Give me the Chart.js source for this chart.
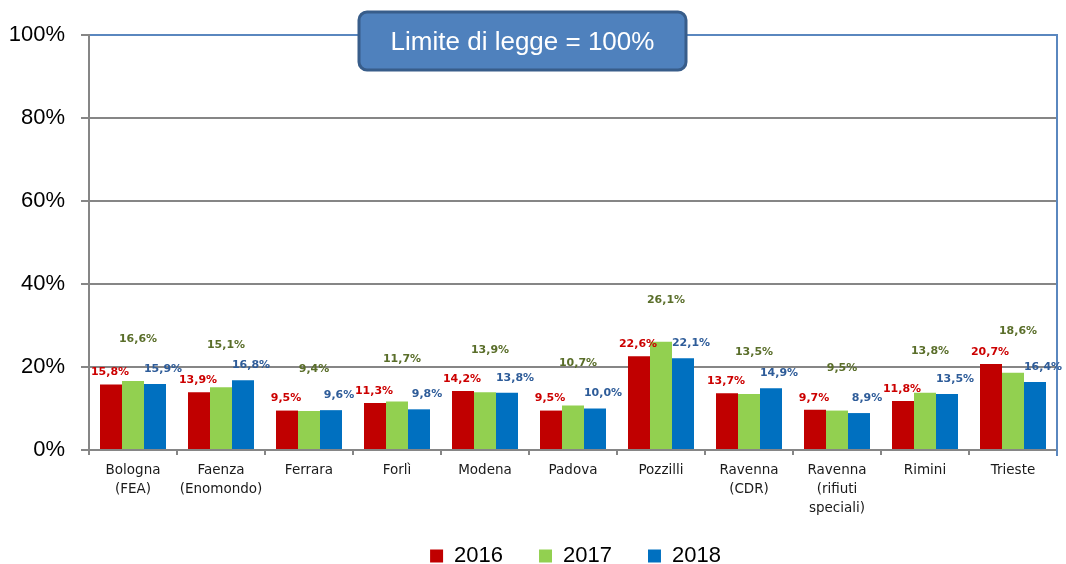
<!DOCTYPE html>
<html>
<head>
<meta charset="utf-8">
<script src="https://cdn.jsdelivr.net/npm/chart.js@4"></script>
<style>
  html, body { margin: 0; padding: 0; background: #fff; }
  #wrap { width: 1066px; height: 564px; position: relative; }
</style>
</head>
<body>
<div id="wrap"><canvas id="myChart"></canvas></div>
<script>
// data
const categories = [
  ["Bologna", "(FEA)"],
  ["Faenza", "(Enomondo)"],
  "Ferrara",
  "Forlì",
  "Modena",
  "Padova",
  "Pozzilli",
  ["Ravenna", "(CDR)"],
  ["Ravenna", "(rifiuti", "speciali)"],
  "Rimini",
  "Trieste",
];
const years = ["2016", "2017", "2018"];
const values2016 = [15.8, 13.9, 9.5, 11.3, 14.2, 9.5, 22.6, 13.7, 9.7, 11.8, 20.7];
const values2017 = [16.6, 15.1, 9.4, 11.7, 13.9, 10.7, 26.1, 13.5, 9.5, 13.8, 18.6];
const values2018 = [15.9, 16.8, 9.6, 9.8, 13.8, 10.0, 22.1, 14.9, 8.9, 13.5, 16.4];
const yTicks = [0, 20, 40, 60, 80, 100];
const limitText = "Limite di legge = 100%";

// colours
const barColors = ["#C00000", "#92D050", "#0070C0"];
const labelColors = ["#CC0000", "#5A6E2A", "#2E5C99"];
const gridGray = "#868686";
const borderBlue = "#5A87BF";

// value labels over the bars, nudged per series
const labelNudge = [
  { dx: -1, dy: 12 },
  { dx: 5, dy: 42 },
  { dx: 8, dy: 15 },
];

const valueLabels = {
  id: "valueLabels",
  afterDatasetsDraw(chart) {
    const ctx = chart.ctx;
    ctx.save();
    ctx.font = "bold 11px 'DejaVu Sans'";
    ctx.textAlign = "center";
    ctx.textBaseline = "middle";
    chart.data.datasets.forEach((ds, i) => {
      const meta = chart.getDatasetMeta(i);
      ctx.fillStyle = labelColors[i];
      meta.data.forEach((bar, j) => {
        let txt = ds.data[j].toFixed(1).replace(".", ",") + "%";
        ctx.fillText(txt, bar.x + labelNudge[i].dx, bar.y - labelNudge[i].dy);
      });
    });
    ctx.restore();
  },
};

// right border of the plot area
const plotBorder = {
  id: "plotBorder",
  beforeDatasetsDraw(chart) {
    const { ctx, chartArea } = chart;
    ctx.save();
    ctx.strokeStyle = borderBlue;
    ctx.lineWidth = 2;
    ctx.beginPath();
    ctx.moveTo(chartArea.right, chartArea.top - 1);
    ctx.lineTo(chartArea.right, chartArea.bottom + 6);
    ctx.stroke();
    ctx.restore();
  },
};

// the "legal limit" note on top of the chart
const limitBox = {
  id: "limitBox",
  afterDraw(chart) {
    const { ctx, chartArea } = chart;
    const x = chartArea.left + 270;
    const y = chartArea.top - 23;
    const w = 327;
    const h = 58;
    ctx.save();
    ctx.beginPath();
    ctx.roundRect(x, y, w, h, 8);
    ctx.fillStyle = "#4F81BD";
    ctx.fill();
    ctx.lineWidth = 3;
    ctx.strokeStyle = "#385D8A";
    ctx.stroke();
    ctx.fillStyle = "#fff";
    ctx.font = "26px 'Liberation Sans'";
    ctx.textAlign = "center";
    ctx.textBaseline = "middle";
    ctx.fillText(limitText, x + w / 2, y + h / 2 + 2);
    ctx.restore();
  },
};

// legend: a bit to the right, and pulled up under the axis labels
const legendShift = {
  id: "legendShift",
  afterInit(chart) {
    const fit = chart.legend.fit;
    chart.legend.fit = function () {
      fit.call(this);
      if (this.lineWidths && this.lineWidths.length) this.lineWidths[0] -= 94;
    };
  },
  afterLayout(chart) {
    chart.legend.top -= 9;
    chart.legend.bottom -= 9;
  },
};

function renderChart() {
  const ctx = document.getElementById("myChart").getContext("2d");
  const series = [values2016, values2017, values2018];

  new Chart(ctx, {
    type: "bar",
    data: {
      labels: categories,
      datasets: years.map((y, i) => ({
        label: y,
        data: series[i],
        backgroundColor: barColors[i],
        borderWidth: 0,
        categoryPercentage: 0.75,
        barPercentage: 1,
      })),
    },
    options: {
      responsive: true,
      maintainAspectRatio: false,
      animation: false,
      layout: {
        padding: { top: 35, left: 0, right: 9, bottom: -22 },
      },
      plugins: {
        tooltip: { enabled: false },
        legend: {
          position: "bottom",
          labels: {
            boxWidth: 13,
            boxHeight: 13,
            padding: 36,
            color: "#000",
            font: { family: "'Liberation Sans'", size: 22 },
          },
        },
      },
      scales: {
        x: {
          grid: {
            offset: true,
            drawOnChartArea: false,
            drawTicks: true,
            tickLength: 5,
            color: gridGray,
            lineWidth: 2,
          },
          border: { display: true, color: gridGray, width: 2 },
          ticks: {
            color: "#1a1a1a",
            padding: 6,
            maxRotation: 0,
            autoSkip: false,
            font: { family: "'DejaVu Sans'", size: 13.5, lineHeight: 1.4 },
          },
          afterFit(scale) {
            scale.height = 68;
          },
        },
        y: {
          min: 0,
          max: 100,
          afterBuildTicks(scale) {
            scale.ticks = yTicks.map((v) => ({ value: v }));
          },
          grid: {
            color: (c) => (c.tick && c.tick.value === 100 ? borderBlue : gridGray),
            tickColor: gridGray,
            lineWidth: 2,
            tickLength: 8,
          },
          border: { display: true, color: gridGray, width: 2 },
          ticks: {
            color: "#000",
            padding: 16,
            font: { family: "'Liberation Sans'", size: 22 },
            callback: (v) => v + "%",
          },
          afterFit(scale) {
            scale.width = 89;
          },
        },
      },
    },
    plugins: [plotBorder, valueLabels, limitBox, legendShift],
  });
}

renderChart();
</script>
</body>
</html>
